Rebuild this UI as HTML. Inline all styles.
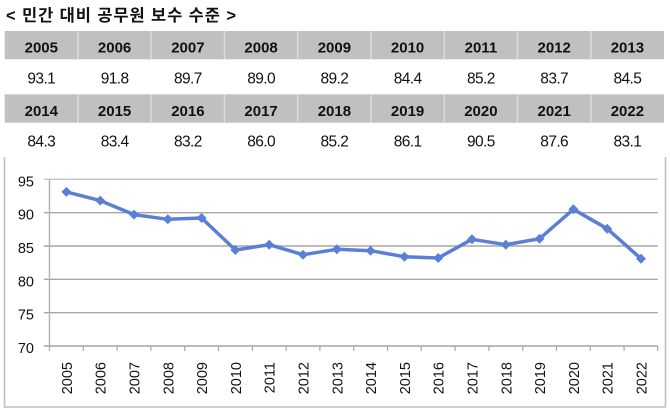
<!DOCTYPE html>
<html><head><meta charset="utf-8"><style>
html,body{margin:0;padding:0;background:#fff;}
svg{display:block;}
</style></head><body>
<svg width="670" height="412" viewBox="0 0 670 412" xmlns="http://www.w3.org/2000/svg">
<rect x="0" y="0" width="670" height="412" fill="#fff"/>
<text x="6" y="21" font-family="'Liberation Sans','Noto Sans CJK KR',sans-serif" font-weight="700" font-size="16.5" letter-spacing="0.9" fill="#111">&lt; 민간 대비 공무원 보수 수준 &gt;</text>
<!-- table headers -->
<rect x="4.7" y="31" width="659.3" height="28.3" fill="#c0c0c0"/>
<rect x="4.7" y="94.3" width="659.3" height="28.4" fill="#c0c0c0"/>
<g stroke="#dcdcdc" stroke-width="1.5">
<line x1="77.96" y1="31" x2="77.96" y2="59.3"/><line x1="151.2" y1="31" x2="151.2" y2="59.3"/><line x1="224.5" y1="31" x2="224.5" y2="59.3"/><line x1="297.7" y1="31" x2="297.7" y2="59.3"/><line x1="371" y1="31" x2="371" y2="59.3"/><line x1="444.3" y1="31" x2="444.3" y2="59.3"/><line x1="517.5" y1="31" x2="517.5" y2="59.3"/><line x1="590.8" y1="31" x2="590.8" y2="59.3"/>
<line x1="77.96" y1="94.3" x2="77.96" y2="122.7"/><line x1="151.2" y1="94.3" x2="151.2" y2="122.7"/><line x1="224.5" y1="94.3" x2="224.5" y2="122.7"/><line x1="297.7" y1="94.3" x2="297.7" y2="122.7"/><line x1="371" y1="94.3" x2="371" y2="122.7"/><line x1="444.3" y1="94.3" x2="444.3" y2="122.7"/><line x1="517.5" y1="94.3" x2="517.5" y2="122.7"/><line x1="590.8" y1="94.3" x2="590.8" y2="122.7"/>
</g>
<g font-family="'Liberation Sans',sans-serif" font-weight="bold" font-size="15" fill="#111" text-anchor="middle">
<text x="41.3" y="52.5">2005</text><text x="114.6" y="52.5">2006</text><text x="187.9" y="52.5">2007</text><text x="261.1" y="52.5">2008</text><text x="334.4" y="52.5">2009</text><text x="407.6" y="52.5">2010</text><text x="480.9" y="52.5">2011</text><text x="554.2" y="52.5">2012</text><text x="627.4" y="52.5">2013</text>
<text x="41.3" y="115.8">2014</text><text x="114.6" y="115.8">2015</text><text x="187.9" y="115.8">2016</text><text x="261.1" y="115.8">2017</text><text x="334.4" y="115.8">2018</text><text x="407.6" y="115.8">2019</text><text x="480.9" y="115.8">2020</text><text x="554.2" y="115.8">2021</text><text x="627.4" y="115.8">2022</text>
</g>
<g font-family="'Liberation Sans',sans-serif" font-size="15.5" fill="#111" text-anchor="middle" letter-spacing="-0.6">
<text x="41.3" y="83.3">93.1</text><text x="114.6" y="83.3">91.8</text><text x="187.9" y="83.3">89.7</text><text x="261.1" y="83.3">89.0</text><text x="334.4" y="83.3">89.2</text><text x="407.6" y="83.3">84.4</text><text x="480.9" y="83.3">85.2</text><text x="554.2" y="83.3">83.7</text><text x="627.4" y="83.3">84.5</text>
<text x="41.3" y="146.6">84.3</text><text x="114.6" y="146.6">83.4</text><text x="187.9" y="146.6">83.2</text><text x="261.1" y="146.6">86.0</text><text x="334.4" y="146.6">85.2</text><text x="407.6" y="146.6">86.1</text><text x="480.9" y="146.6">90.5</text><text x="554.2" y="146.6">87.6</text><text x="627.4" y="146.6">83.1</text>
</g>
<!-- chart box -->
<path d="M4.5 157 L4.5 407 L665.5 407 L665.5 157" fill="none" stroke="#bfbfbf" stroke-width="1.6"/>
<!-- gridlines -->
<g stroke="#a6a6a6" stroke-width="1.4">
<line x1="44" y1="179.3" x2="657.7" y2="179.3" stroke="#c4c4c4"/>
<line x1="44" y1="212.7" x2="657.7" y2="212.7"/>
<line x1="44" y1="246" x2="657.7" y2="246"/>
<line x1="44" y1="279.3" x2="657.7" y2="279.3"/>
<line x1="44" y1="312.7" x2="657.7" y2="312.7"/>
<line x1="44" y1="346" x2="657.7" y2="346"/>
<line x1="49.5" y1="179.3" x2="49.5" y2="351" stroke="#b0b0b0"/>
</g>
<g stroke="#a6a6a6" stroke-width="1.2">
<line x1="83.3" y1="346" x2="83.3" y2="351"/><line x1="117.1" y1="346" x2="117.1" y2="351"/><line x1="150.9" y1="346" x2="150.9" y2="351"/><line x1="184.7" y1="346" x2="184.7" y2="351"/><line x1="218.5" y1="346" x2="218.5" y2="351"/><line x1="252.3" y1="346" x2="252.3" y2="351"/><line x1="286.1" y1="346" x2="286.1" y2="351"/><line x1="319.9" y1="346" x2="319.9" y2="351"/><line x1="353.7" y1="346" x2="353.7" y2="351"/><line x1="387.5" y1="346" x2="387.5" y2="351"/><line x1="421.3" y1="346" x2="421.3" y2="351"/><line x1="455.1" y1="346" x2="455.1" y2="351"/><line x1="488.9" y1="346" x2="488.9" y2="351"/><line x1="522.7" y1="346" x2="522.7" y2="351"/><line x1="556.5" y1="346" x2="556.5" y2="351"/><line x1="590.3" y1="346" x2="590.3" y2="351"/><line x1="624.1" y1="346" x2="624.1" y2="351"/><line x1="657.7" y1="346" x2="657.7" y2="351"/>
</g>
<g font-family="'Liberation Sans',sans-serif" font-size="14.5" fill="#111" text-anchor="end">
<text x="34" y="186.3">95</text><text x="34" y="219.7">90</text><text x="34" y="253">85</text><text x="34" y="286.3">80</text><text x="34" y="319.7">75</text><text x="34" y="353">70</text>
</g>
<g font-family="'Liberation Sans',sans-serif" font-size="14.5" fill="#111" text-anchor="end">
<text transform="translate(71.9,362) rotate(-90)">2005</text>
<text transform="translate(105.7,362) rotate(-90)">2006</text>
<text transform="translate(139.5,362) rotate(-90)">2007</text>
<text transform="translate(173.3,362) rotate(-90)">2008</text>
<text transform="translate(207.1,362) rotate(-90)">2009</text>
<text transform="translate(240.9,362) rotate(-90)">2010</text>
<text transform="translate(274.7,362) rotate(-90)">2011</text>
<text transform="translate(308.5,362) rotate(-90)">2012</text>
<text transform="translate(342.3,362) rotate(-90)">2013</text>
<text transform="translate(376.1,362) rotate(-90)">2014</text>
<text transform="translate(409.9,362) rotate(-90)">2015</text>
<text transform="translate(443.7,362) rotate(-90)">2016</text>
<text transform="translate(477.5,362) rotate(-90)">2017</text>
<text transform="translate(511.3,362) rotate(-90)">2018</text>
<text transform="translate(545.1,362) rotate(-90)">2019</text>
<text transform="translate(578.9,362) rotate(-90)">2020</text>
<text transform="translate(612.7,362) rotate(-90)">2021</text>
<text transform="translate(646.5,362) rotate(-90)">2022</text>
</g>
<!-- series -->
<polyline fill="none" stroke="#5b7fd6" stroke-width="3.5" stroke-linejoin="round" points="66.4,191.9 100.2,200.6 134,214.6 167.8,219.3 201.6,218 235.4,250 269.2,244.7 303,254.7 336.8,249.3 370.6,250.7 404.4,256.7 438.2,258 472,239.3 505.8,244.7 539.6,238.7 573.4,209.3 607.2,228.7 641,258.7"/>
<g fill="#5b7fd6">
<path d="M66.4 186.9 L71.4 191.9 L66.4 196.9 L61.4 191.9Z"/>
<path d="M100.2 195.6 L105.2 200.6 L100.2 205.6 L95.2 200.6Z"/>
<path d="M134 209.6 L139 214.6 L134 219.6 L129 214.6Z"/>
<path d="M167.8 214.3 L172.8 219.3 L167.8 224.3 L162.8 219.3Z"/>
<path d="M201.6 213 L206.6 218 L201.6 223 L196.6 218Z"/>
<path d="M235.4 245 L240.4 250 L235.4 255 L230.4 250Z"/>
<path d="M269.2 239.7 L274.2 244.7 L269.2 249.7 L264.2 244.7Z"/>
<path d="M303 249.7 L308 254.7 L303 259.7 L298 254.7Z"/>
<path d="M336.8 244.3 L341.8 249.3 L336.8 254.3 L331.8 249.3Z"/>
<path d="M370.6 245.7 L375.6 250.7 L370.6 255.7 L365.6 250.7Z"/>
<path d="M404.4 251.7 L409.4 256.7 L404.4 261.7 L399.4 256.7Z"/>
<path d="M438.2 253 L443.2 258 L438.2 263 L433.2 258Z"/>
<path d="M472 234.3 L477 239.3 L472 244.3 L467 239.3Z"/>
<path d="M505.8 239.7 L510.8 244.7 L505.8 249.7 L500.8 244.7Z"/>
<path d="M539.6 233.7 L544.6 238.7 L539.6 243.7 L534.6 238.7Z"/>
<path d="M573.4 204.3 L578.4 209.3 L573.4 214.3 L568.4 209.3Z"/>
<path d="M607.2 223.7 L612.2 228.7 L607.2 233.7 L602.2 228.7Z"/>
<path d="M641 253.7 L646 258.7 L641 263.7 L636 258.7Z"/>
</g>
</svg>
</body></html>
